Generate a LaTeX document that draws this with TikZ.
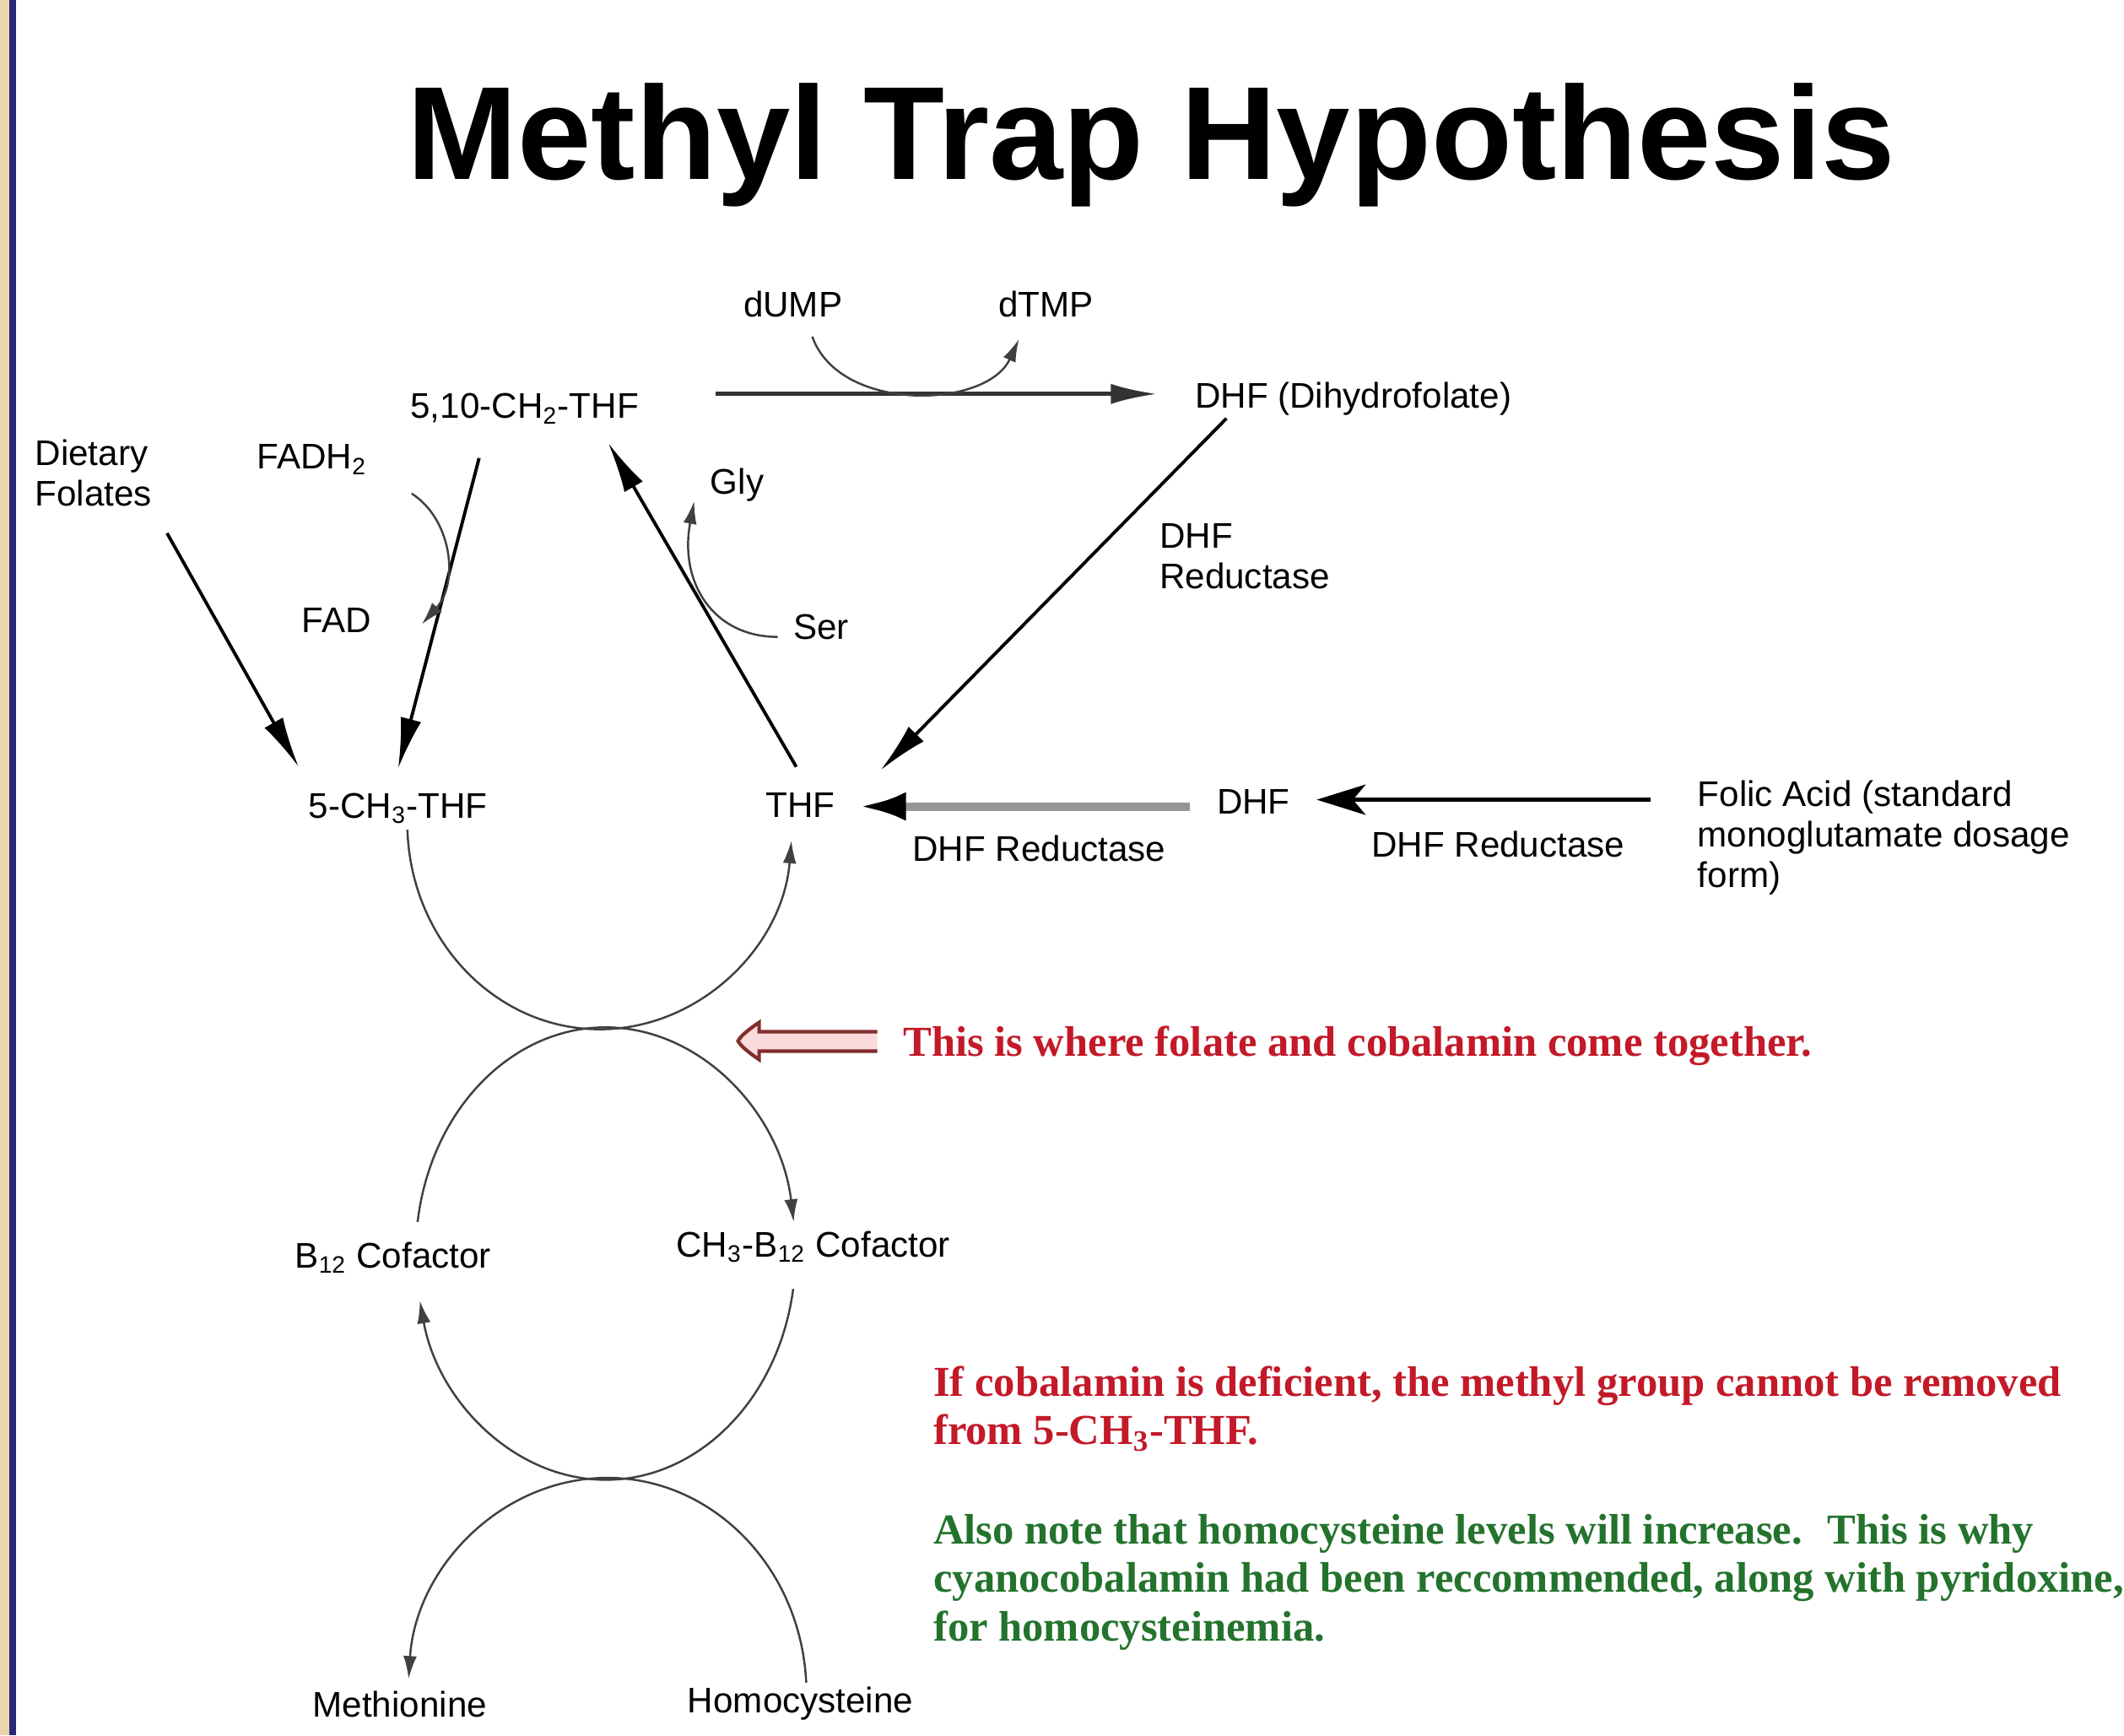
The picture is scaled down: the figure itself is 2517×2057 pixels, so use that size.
\documentclass[tikz,border=0pt]{standalone}
\usepackage{fontspec}
\setmainfont{Liberation Sans}
\newfontfamily\notefont{Liberation Serif}
\usetikzlibrary{arrows.meta,calc}
\definecolor{navyband}{RGB}{40,40,120}
\definecolor{beigeband}{RGB}{233,214,175}
\definecolor{notered}{RGB}{195,25,40}
\definecolor{notegreen}{RGB}{35,115,45}
\definecolor{arrowbrown}{RGB}{130,45,45}
\definecolor{arrowpink}{RGB}{250,218,218}
\definecolor{linegray}{RGB}{150,150,150}
\begin{document}
\begin{tikzpicture}[x=0.01cm,y=-0.01cm,
  lbl/.style={font=\fontsize{12}{13.6}\selectfont, inner sep=0pt, anchor=base},
  lblw/.style={lbl, anchor=base west},
  note/.style={font=\notefont\bfseries\fontsize{14.4}{16.4}\selectfont, inner sep=0pt, anchor=base west},
  mainarrow/.style={line width=1.1pt, -{Latex[length=0.6cm,width=0.25cm]}},
  thinarrow/.style={line width=0.7pt, draw=black!75, -{Latex[length=0.27cm,width=0.16cm]}},
  thinline/.style={line width=0.7pt, draw=black!75},
]
% background and left band
\fill[white] (0,0) rectangle (2517,2057);
\fill[beigeband] (0,0) rectangle (11,2057);
\fill[navyband] (11,0) rectangle (19,2057);

% title
\node[font=\bfseries\fontsize{44.7}{50}\selectfont, inner sep=0pt, anchor=base] (title) at (1365,213) {Methyl Trap Hypothesis};

% labels
\node[lbl] (dump) at (940,376) {dUMP};
\node[lbl] (dtmp) at (1240,376) {dTMP};
\node[lbl] (mthf510) at (622,496) {5,10-CH\textsubscript{2}-THF};
\node[lblw] (dhfd) at (1416,484) {DHF (Dihydrofolate)};
\node[lblw] (diet) at (41,552) {\begin{tabular}[t]{@{}l@{}}Dietary\\Folates\end{tabular}};
\node[lbl] (fadh) at (370,556) {FADH\textsubscript{2}};
\node[lbl] (gly) at (874,586) {Gly};
\node[lbl] (fad) at (399,750) {FAD};
\node[lblw] (ser) at (940,758) {Ser};
\node[lblw] (red1) at (1374,650) {\begin{tabular}[t]{@{}l@{}}DHF\\Reductase\end{tabular}};
\node[lbl] (mthf5) at (472,970) {5-CH\textsubscript{3}-THF};
\node[lbl] (thf) at (949,969) {THF};
\node[lbl] (dhf) at (1486,965) {DHF};
\node[lbl] (red2) at (1232,1021) {DHF Reductase};
\node[lbl] (red3) at (1776,1016) {DHF Reductase};
\node[lblw] (folic) at (2012,956) {\begin{tabular}[t]{@{}l@{}}Folic Acid (standard\\monoglutamate dosage\\form)\end{tabular}};
\node[lbl] (b12) at (466,1503) {B\textsubscript{12} Cofactor};
\node[lbl] (ch3b12) at (964,1490) {CH\textsubscript{3}-B\textsubscript{12} Cofactor};
\node[lbl] (met) at (474,2035) {Methionine};
\node[lbl] (hcy) at (949,2030) {Homocysteine};

% notes
\node[note, text=notered] (n1) at (1070,1252) {This is where folate and cobalamin come together.};
\node[note, text=notered] (n2) at (1106,1655) {\begin{tabular}[t]{@{}l@{}}If cobalamin is deficient, the methyl group cannot be removed\\from 5-CH\textsubscript{3}-THF.\end{tabular}};
\node[note, text=notegreen] (n3) at (1106,1830) {\begin{tabular}[t]{@{}l@{}}Also note that homocysteine levels will increase.~ This is why\\cyanocobalamin had been reccommended, along with pyridoxine,\\for homocysteinemia.\end{tabular}};

% connector end points
\coordinate (aS) at (848,467);   \coordinate (aE) at (1372,467);
\coordinate (dumpS) at (963,399); \coordinate (dtmpE) at (1208,402);
\coordinate (bS) at (1454,496);  \coordinate (bE) at (1044,913);
\coordinate (cS) at (944,909);   \coordinate (cE) at (721,525);
\coordinate (serS) at (922,755); \coordinate (glyE) at (823,594);
\coordinate (dS) at (568,543);   \coordinate (dE) at (472,911);
\coordinate (fS) at (488,585);   \coordinate (fE) at (500,740);
\coordinate (eS) at (198,632);   \coordinate (eE) at (354,909);
\coordinate (gS) at (1411,956);  \coordinate (gE) at (1019,956);
\coordinate (hS) at (1957,948);  \coordinate (hE) at (1561,948);
\coordinate (cU) at (711,975);
\coordinate (cM) at (718,1486);
\coordinate (cL) at (720,2008);
\coordinate (u1) at ($(cU)+(182:2.28cm and 2.45cm)$);
\coordinate (m1) at ($(cM)+(172:2.25cm and 2.68cm)$);
\coordinate (m2) at ($(cM)+(-9:2.25cm and 2.68cm)$);
\coordinate (l1) at ($(cL)+(3:2.36cm and 2.56cm)$);

% connectors
\draw[line width=1.4pt, draw=black!80, -{Latex[length=0.55cm,width=0.24cm]}] (aS) -- (aE);
\draw[thinarrow] (dumpS) .. controls (995,490) and (1170,485) .. (dtmpE);
\draw[mainarrow] (bS) -- (bE);
\draw[mainarrow] (cS) -- (cE);
\draw[thinarrow] (serS) .. controls (845,755) and (805,690) .. (glyE);
\draw[mainarrow] (dS) -- (dE);
\draw[thinarrow] (fS) .. controls (535,615) and (545,690) .. (fE);
\draw[mainarrow] (eS) -- (eE);
\draw[line width=2.8pt, draw=linegray, -{Latex[length=0.55cm,width=0.34cm,color=black]}] (gS) -- (gE);
\draw[line width=1.2pt, -{Stealth[length=0.58cm,width=0.36cm,inset=0.15cm]}] (hS) -- (hE);

% cycles
\draw[thinarrow] (u1) arc[start angle=182, end angle=355, x radius=2.28cm, y radius=2.45cm];
\draw[thinarrow] (m1) arc[start angle=172, end angle=8, x radius=2.25cm, y radius=2.68cm];
\draw[thinarrow] (m2) arc[start angle=-9, end angle=-168, x radius=2.25cm, y radius=2.68cm];
\draw[thinarrow] (l1) arc[start angle=3, end angle=176, x radius=2.36cm, y radius=2.56cm];

% red hollow pointer
\draw[arrowbrown, line width=1.2pt, fill=arrowpink] (1040,1223) -- (900,1223) -- (900,1212)
  .. controls (888,1220) and (878,1228) .. (875,1234)
  .. controls (878,1240) and (888,1248) .. (900,1256) -- (900,1246) -- (1040,1246);
\end{tikzpicture}
\end{document}
